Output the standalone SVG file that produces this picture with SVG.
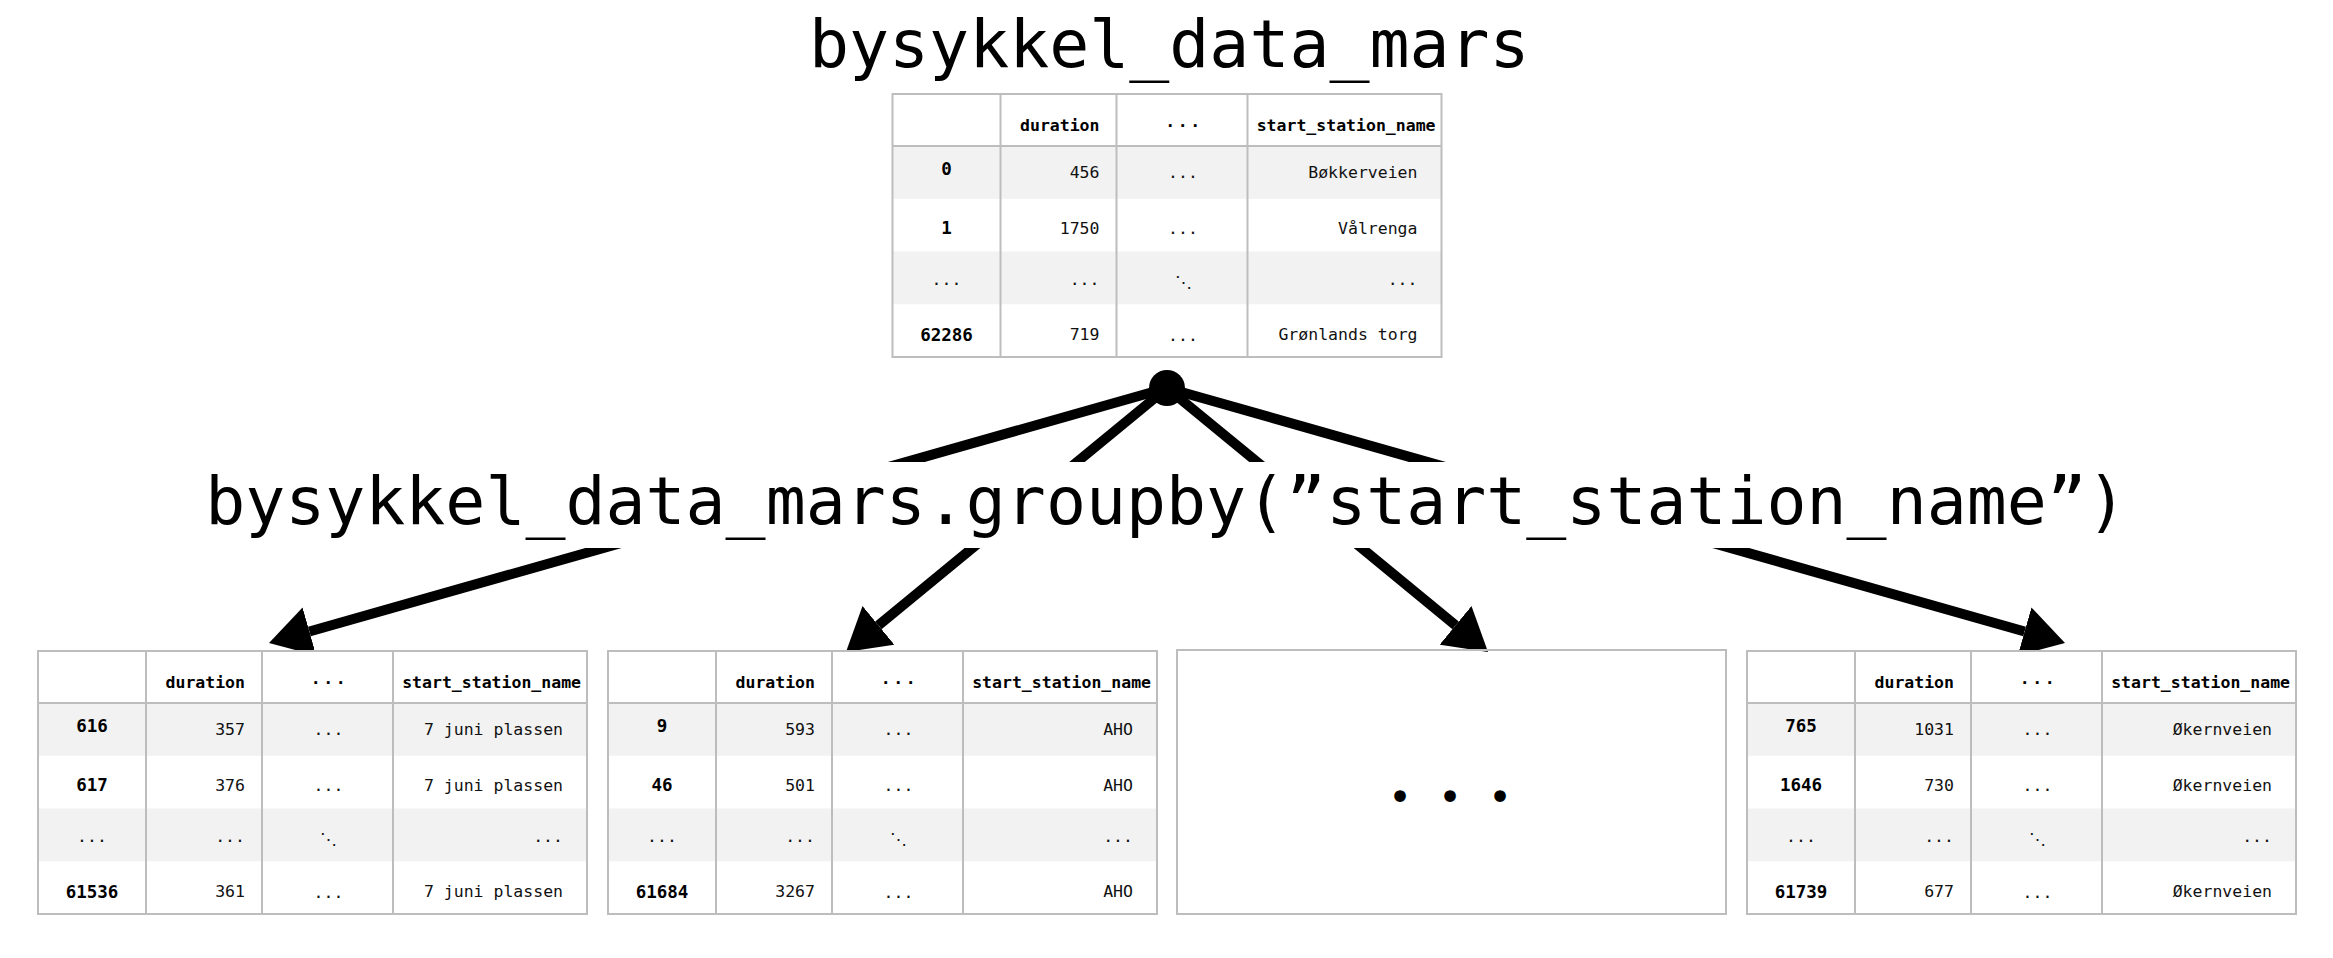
<svg xmlns="http://www.w3.org/2000/svg" xmlns:xlink="http://www.w3.org/1999/xlink" width="2333" height="958" viewBox="0 0 2333 958">
<style>
.title{font-family:"DejaVu Sans Mono",monospace;font-size:66.5px;fill:#000}
.bd{fill:none;stroke:#bdbdbd;stroke-width:2}
.gr{fill:#f2f2f2}
.h{font-family:"DejaVu Sans Mono",monospace;font-size:16.5px;font-weight:bold;fill:#000}
.ix{font-family:"DejaVu Sans Mono",monospace;font-size:17.5px;font-weight:bold;fill:#000;text-anchor:middle}
.v{font-family:"DejaVu Sans Mono",monospace;font-size:16.5px;fill:#111}
.r{text-anchor:end}
.m{text-anchor:middle}
.ls{letter-spacing:2.5px}
.conn{stroke:#000;stroke-width:10;fill:none}
.bullet{font-family:"DejaVu Sans",sans-serif;font-size:40px;fill:#000;text-anchor:middle}
</style>
<defs>
<marker id="ah" markerUnits="userSpaceOnUse" markerWidth="42" markerHeight="50" refX="0" refY="25" orient="auto" viewBox="0 0 42 50">
<path d="M0,0 L42,25 L0,50 z" fill="#000"/>
</marker>
<g id="grid">
<rect x="0" y="0" width="549" height="263" fill="#fff"/>
<rect class="gr" x="0" y="52" width="549" height="52.75"/>
<rect class="gr" x="0" y="157.5" width="549" height="52.75"/>
<line class="bd" x1="0" y1="52" x2="549" y2="52"/>
<line class="bd" x1="108" y1="0" x2="108" y2="263"/>
<line class="bd" x1="224" y1="0" x2="224" y2="263"/>
<line class="bd" x1="355" y1="0" x2="355" y2="263"/>
<rect class="bd" x="0" y="0" width="549" height="263"/>
</g>
<g id="head">
<text class="h r" x="207" y="37">duration</text>
<text class="h m ls" x="291.5" y="37">···</text>
<text class="h r" x="543" y="37">start_station_name</text>
<text class="v m" x="54" y="190.5">...</text>
<text class="v r" x="207" y="190.5">...</text>
<text class="v m" x="290.5" y="194">⋱</text>
<text class="v r" x="525" y="190.5">...</text>
<text class="v m" x="290.5" y="84">...</text>
<text class="v m" x="290.5" y="140">...</text>
<text class="v m" x="290.5" y="247">...</text>
</g>
</defs>
<rect x="0" y="0" width="2333" height="958" fill="#fff"/>

<g id="connectors">
<line class="conn" x1="1167" y1="388" x2="309.4" y2="631.5" marker-end="url(#ah)"/>
<line class="conn" x1="1167" y1="388" x2="878.4" y2="625.3" marker-end="url(#ah)"/>
<line class="conn" x1="1167" y1="388" x2="1455.6" y2="625.3" marker-end="url(#ah)"/>
<line class="conn" x1="1167" y1="388" x2="2024.6" y2="631.5" marker-end="url(#ah)"/>
<circle cx="1167" cy="388" r="18" fill="#000"/>
</g>

<g id="title">
<text class="title" x="809" y="67">bysykkel_data_mars</text>
</g>

<g id="groupby">
<rect x="195" y="462" width="1945" height="86" fill="#fff"/>
<text class="title" x="1166" y="524" text-anchor="middle">bysykkel_data_mars.groupby(”start_station_name”)</text>
</g>

<g id="table-top" transform="translate(892.5,94)">
<use xlink:href="#grid"/>
<use xlink:href="#head"/>
<text class="ix" x="54" y="81">0</text>
<text class="v r" x="207" y="84">456</text>
<text class="v r" x="525" y="84">Bøkkerveien</text>
<text class="ix" x="54" y="140">1</text>
<text class="v r" x="207" y="140">1750</text>
<text class="v r" x="525" y="140">Vålrenga</text>
<text class="ix" x="54" y="247">62286</text>
<text class="v r" x="207" y="246">719</text>
<text class="v r" x="525" y="246">Grønlands torg</text>
</g>

<g id="table-1" transform="translate(38,651)">
<use xlink:href="#grid"/>
<use xlink:href="#head"/>
<text class="ix" x="54" y="81">616</text>
<text class="v r" x="207" y="84">357</text>
<text class="v r" x="525" y="84">7 juni plassen</text>
<text class="ix" x="54" y="140">617</text>
<text class="v r" x="207" y="140">376</text>
<text class="v r" x="525" y="140">7 juni plassen</text>
<text class="ix" x="54" y="247">61536</text>
<text class="v r" x="207" y="246">361</text>
<text class="v r" x="525" y="246">7 juni plassen</text>
</g>

<g id="table-2" transform="translate(608,651)">
<use xlink:href="#grid"/>
<use xlink:href="#head"/>
<text class="ix" x="54" y="81">9</text>
<text class="v r" x="207" y="84">593</text>
<text class="v r" x="525" y="84">AHO</text>
<text class="ix" x="54" y="140">46</text>
<text class="v r" x="207" y="140">501</text>
<text class="v r" x="525" y="140">AHO</text>
<text class="ix" x="54" y="247">61684</text>
<text class="v r" x="207" y="246">3267</text>
<text class="v r" x="525" y="246">AHO</text>
</g>

<g id="box-more">
<rect class="bd" x="1177" y="650" width="549" height="264" fill="#fff"/>
<text class="bullet" x="1400 1450 1500" y="811">•••</text>
</g>

<g id="table-4" transform="translate(1747,651)">
<use xlink:href="#grid"/>
<use xlink:href="#head"/>
<text class="ix" x="54" y="81">765</text>
<text class="v r" x="207" y="84">1031</text>
<text class="v r" x="525" y="84">Økernveien</text>
<text class="ix" x="54" y="140">1646</text>
<text class="v r" x="207" y="140">730</text>
<text class="v r" x="525" y="140">Økernveien</text>
<text class="ix" x="54" y="247">61739</text>
<text class="v r" x="207" y="246">677</text>
<text class="v r" x="525" y="246">Økernveien</text>
</g>
</svg>
